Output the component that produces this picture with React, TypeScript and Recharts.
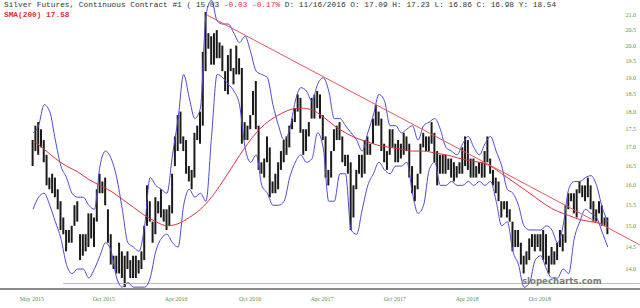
import React from 'react';
import { ComposedChart, Bar, Line, XAxis, YAxis, ReferenceLine } from 'recharts';

// weekly high / low, starting early May 2015
const highs = [
  17.2, 17.6,
  17.7, 17.5, 17.2, 16.8, 16.2, 16.3, 16.2, 15.9, 15.6, 15.2,
  14.9, 14.9, 15.0, 15.5, 15.6, 14.8, 14.8, 14.8, 15.3, 15.3,
  15.2, 15.9, 16.3, 16.1, 16.2, 15.4, 14.8, 14.3, 14.3, 14.6,
  14.4, 14.3, 14.4, 14.2, 14.3, 14.3, 14.2, 14.4, 15.0, 16.0,
  15.6, 15.1, 15.7, 15.6, 15.9, 15.4, 15.4, 15.5, 16.3, 17.3,
  17.9, 18.0, 17.3, 17.2, 16.5, 16.4, 17.4, 17.6, 18.0, 19.8,
  21.1, 20.4, 20.3, 20.4, 20.5, 20.1, 20.0, 19.2, 19.7, 19.9,
  19.3, 20.0, 19.6, 19.3, 17.7, 17.6, 17.9, 18.6, 18.9, 17.6,
  16.6, 16.7, 17.3, 17.0, 16.1, 16.3, 16.6, 16.9, 17.2, 17.3,
  17.6, 17.8, 18.1, 18.5, 18.4, 17.5, 17.5, 17.7, 18.4, 18.5,
  18.6, 18.5, 17.9, 17.3, 16.4, 16.9, 17.5, 17.6, 17.7, 17.3,
  16.8, 16.8, 16.6, 16.0, 16.4, 16.8, 16.8, 17.2, 17.3, 17.1,
  17.8, 18.2, 18.0, 17.8, 17.1, 16.9, 17.5, 17.5, 17.1, 17.2,
  17.1, 17.4, 17.3, 17.1, 16.5, 16.0, 16.3, 17.1, 17.4, 17.3,
  17.3, 17.7, 17.4, 16.9, 16.8, 16.8, 16.8, 16.7, 16.7, 16.6,
  16.5, 16.6, 17.0, 17.3, 17.2, 16.7, 16.7, 16.5, 16.6, 16.6,
  16.9, 17.3, 16.7, 16.4, 16.2, 16.1, 15.6, 15.6, 15.6, 15.4,
  15.1, 14.9, 14.9, 14.6, 14.3, 14.4, 14.7, 14.8, 14.8, 14.8,
  14.8, 14.9, 14.8, 14.3, 14.5, 14.4, 14.6, 14.9, 14.8, 15.5,
  15.8, 15.8, 15.8, 15.9, 16.1, 16.0, 16.0, 16.2, 16.0, 15.6,
  15.4, 15.6, 15.5, 15.2, 15.2,
];
const lows = [
  16.5, 16.9,
  16.8, 17.0, 16.6, 16.0, 15.9, 15.8, 15.7, 15.4, 14.9, 14.8,
  14.4, 14.6, 14.6, 15.0, 15.1, 14.2, 14.3, 14.4, 14.5, 14.7,
  14.5, 15.1, 15.8, 15.8, 15.5, 14.6, 14.1, 14.0, 13.9, 13.9,
  13.8, 13.6, 14.0, 13.8, 13.8, 13.8, 13.9, 14.0, 14.2, 15.0,
  15.1, 14.6, 14.8, 15.3, 15.2, 15.1, 14.9, 15.0, 15.3, 16.5,
  16.9, 17.1, 16.9, 16.3, 16.1, 15.9, 16.2, 17.2, 17.1, 17.6,
  19.2, 19.9, 19.4, 19.4, 19.6, 19.6, 19.2, 18.6, 18.5, 19.2,
  18.8, 19.1, 19.1, 17.1, 17.2, 17.2, 17.5, 17.9, 17.5, 16.4,
  16.3, 16.2, 16.6, 15.7, 15.8, 15.8, 15.9, 16.4, 16.6, 16.8,
  17.0, 17.5, 17.7, 18.0, 17.4, 16.8, 16.9, 17.3, 17.8, 17.8,
  18.1, 17.8, 17.2, 16.2, 16.0, 16.2, 16.9, 17.2, 17.2, 16.6,
  16.5, 16.3, 14.9, 15.2, 15.9, 16.3, 16.2, 16.3, 16.8, 16.8,
  17.1, 17.6, 17.6, 16.9, 16.6, 16.4, 16.8, 17.0, 16.6, 16.6,
  16.7, 16.8, 16.9, 16.2, 15.8, 15.6, 15.9, 16.3, 17.0, 16.9,
  16.9, 17.1, 16.6, 16.0, 16.3, 16.3, 16.3, 16.4, 16.2, 16.1,
  16.2, 16.3, 16.3, 16.5, 16.4, 16.2, 16.2, 16.2, 16.3, 16.2,
  16.2, 16.6, 16.3, 16.0, 15.8, 15.6, 15.2, 15.4, 15.2, 15.1,
  14.4, 14.5, 14.5, 14.1, 13.9, 14.1, 14.2, 14.5, 14.4, 14.5,
  14.4, 14.2, 14.1, 13.9, 14.1, 14.1, 14.2, 14.5, 14.4, 14.6,
  15.4, 15.6, 15.3, 15.2, 15.8, 15.7, 15.6, 15.7, 15.4, 15.1,
  15.1, 15.3, 15.0, 15.0, 14.8,
];

// bollinger bands, one value every 2 weeks
const upperBand = [
  17.4, 17.6, 18.2, 18.0, 17.2, 16.5, 16.2, 15.8, 15.7, 15.7,
  15.5, 15.4, 16.5, 16.9, 16.7, 16.2, 15.4, 14.6, 14.5, 14.4,
  15.0, 16.2, 16.0, 15.9, 15.8, 16.8, 17.8, 19.1, 18.4, 17.8,
  18.1, 21.0, 21.5, 20.8, 20.7, 20.7, 20.4, 20.1, 20.3, 19.8,
  19.2, 19.1, 19.0, 18.2, 17.6, 17.2, 17.5, 18.3, 18.7, 18.6,
  18.3, 18.8, 19.0, 18.6, 17.8, 17.8, 17.6, 17.4, 17.2, 16.9,
  17.4, 17.9, 18.5, 18.3, 17.6, 17.6, 17.4, 17.5, 17.6, 17.2,
  17.6, 17.7, 17.8, 17.5, 17.0, 16.9, 16.8, 17.1, 17.3, 17.0,
  16.8, 17.1, 17.3, 16.9, 16.5, 15.9, 15.8, 15.5, 15.0, 14.9,
  14.9, 14.9, 15.0, 14.9, 14.6, 15.0, 15.9, 16.1, 16.1, 16.2,
  16.25, 16.0, 15.45, 15.1,
];
const lowerBand = [
  15.4, 15.7, 15.8, 15.5, 15.1, 14.7, 14.1, 13.9, 14.0, 14.0,
  13.8, 14.0, 14.3, 14.6, 14.4, 13.8, 13.6, 13.7, 13.6, 13.6,
  13.6, 13.8, 14.4, 14.7, 14.8, 14.6, 14.5, 15.5, 15.9, 15.7,
  15.8, 15.6, 17.3, 19.1, 19.0, 18.8, 18.6, 18.2, 17.0, 16.6,
  16.8, 16.0, 15.8, 15.5, 15.5, 15.6, 16.2, 16.6, 16.8, 16.6,
  16.7, 17.4, 17.0, 15.6, 15.6, 16.3, 16.3, 14.9, 14.8, 15.4,
  16.0, 16.3, 16.6, 16.4, 16.3, 16.5, 16.5, 16.6, 15.8, 15.3,
  15.5, 16.4, 16.6, 16.0, 16.0, 16.1, 16.0, 16.0, 16.1, 16.0,
  16.1, 16.0, 16.1, 15.6, 15.0, 15.1, 14.4, 14.1, 13.6, 13.7,
  14.2, 14.3, 14.0, 13.8, 13.8, 14.0, 13.9, 14.7, 15.1, 15.4,
  15.3, 15.2, 14.85, 14.5,
];
// 200 day moving average, one value every 4 weeks
const sma200 = [
  17.2, 16.95, 16.7, 16.5, 16.35, 16.15, 16.0, 15.85, 15.65, 15.45,
  15.25, 15.1, 15.0, 15.05, 15.2, 15.4, 15.7, 16.1, 16.55, 17.0,
  17.4, 17.7, 17.9, 18.05, 18.1, 18.05, 17.85, 17.6, 17.4, 17.25,
  17.15, 17.05, 17.0, 16.95, 16.9, 16.9, 16.85, 16.8, 16.72, 16.65,
  16.6, 16.5, 16.3, 16.1, 15.9, 15.7, 15.5, 15.35, 15.25, 15.15,
  15.1, 15.05,
];

const tickWeeks = [-0.4, 25.4, 51.3, 77.8, 103.6, 129.7, 155.6, 181.7];
const tickLabels = ['May 2015', 'Oct 2015', 'Apr 2016', 'Oct 2016', 'Apr 2017', 'Oct 2017', 'Apr 2018', 'Oct 2018'];
const priceTicks = [14, 14.5, 15, 15.5, 16, 16.5, 17, 17.5, 18, 18.5, 19, 19.5, 20, 20.5, 21];

const trendLine = [{ x: 62.4, y: 21.0 }, { x: 217.5, y: 14.55 }];
const supportLine = [{ x: 10.8, y: 13.68 }, { x: 217.5, y: 13.68 }];

const bars = highs.map((h, i) => ({ w: i, range: [lows[i], h] }));
const upperData = upperBand.map((v, i) => ({ w: i * 2, v }));
const lowerData = lowerBand.map((v, i) => ({ w: i * 2, v }));
const smaData = sma200.map((v, i) => ({ w: i * 4, v }));

const GREEN = '#4f9a45';

const PriceTick = (props: any) => {
  const { y, payload } = props;
  return (
    <text x={636} y={y + 2} textAnchor="end" fill={GREEN} fontSize={6} fontFamily="Liberation Serif">
      {Number(payload.value).toFixed(1)}
    </text>
  );
};

export default function App() {
  return (
    <div style={{ position: 'absolute', left: 0, top: 0, width: 640, height: 308, background: '#fff' }}>
      <ComposedChart width={640} height={308} data={bars} margin={{ top: 0, right: 0, bottom: 0, left: 0 }}>
        <XAxis
          type="number"
          dataKey="w"
          domain={[-11.83, 217.56]}
          allowDataOverflow
          ticks={tickWeeks}
          interval={0}
          tickFormatter={(v: number) => tickLabels[tickWeeks.indexOf(v)]}
          axisLine={false}
          tickLine={false}
          height={19}
          tick={{ fill: GREEN, fontSize: 6, fontFamily: 'Liberation Serif' }}
        />
        <YAxis
          scale="log"
          domain={[13.56, 21.51]}
          allowDataOverflow
          ticks={priceTicks}
          interval={0}
          orientation="right"
          mirror
          axisLine={false}
          tickLine={false}
          tick={<PriceTick />}
        />
        <ReferenceLine segment={supportLine} stroke="#9fd88f" strokeWidth={1} />
        <Bar dataKey="range" fill="#1a1a1a" barSize={2} activeBar={false} isAnimationActive={false} />
        <Line data={upperData} dataKey="v" type="monotone" stroke="#4b4bd0" strokeWidth={1} dot={false} activeDot={false} isAnimationActive={false} />
        <Line data={lowerData} dataKey="v" type="monotone" stroke="#4b4bd0" strokeWidth={1} dot={false} activeDot={false} isAnimationActive={false} />
        <Line data={smaData} dataKey="v" type="monotone" stroke="#d9343c" strokeWidth={1} dot={false} activeDot={false} isAnimationActive={false} />
        <ReferenceLine segment={trendLine} stroke="#e2585e" strokeWidth={1} />
      </ComposedChart>
      <div style={{ position: 'absolute', left: 0, top: 288, width: 640, height: 2, background: '#8a8a8a' }} />
      <div style={{ position: 'absolute', left: 522, top: 276, fontFamily: 'DejaVu Sans', fontWeight: 'bold', fontSize: 8.6, color: '#666', opacity: 0.85 }}>
        slopecharts.com
      </div>
      <div style={{ position: 'absolute', left: 4, top: 1, fontFamily: 'Liberation Mono', fontSize: 7.8, lineHeight: '9px', color: '#333', whiteSpace: 'pre' }}>
        Silver Futures, Continuous Contract #1 ( 15.03 <span style={{ color: '#e03030' }}>-0.03 -0.17%</span> D: 11/16/2016 O: 17.09 H: 17.23 L: 16.86 C: 16.98 Y: 18.54
      </div>
      <div style={{ position: 'absolute', left: 4, top: 11, fontFamily: 'Liberation Mono', fontWeight: 'bold', fontSize: 7.8, lineHeight: '9px', color: '#e03030', whiteSpace: 'pre' }}>
        SMA(200) 17.58
      </div>
    </div>
  );
}
